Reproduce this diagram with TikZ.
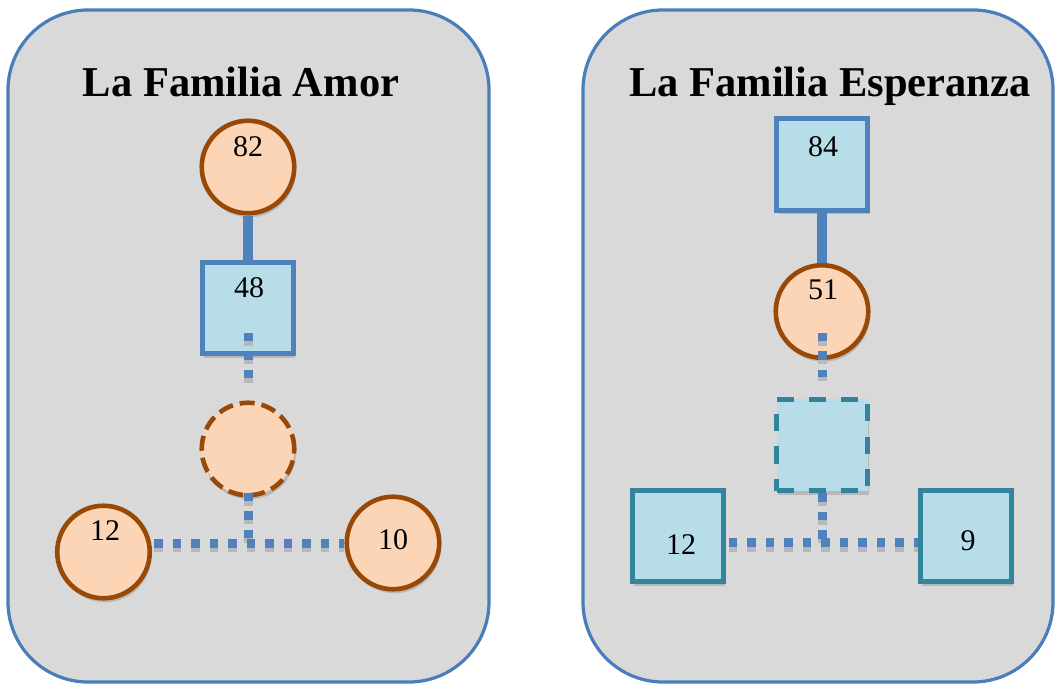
\documentclass[tikz,border=0pt]{standalone}
\usepackage{fontspec}
\setmainfont{Liberation Serif}
\usetikzlibrary{calc,shadows}
\definecolor{panelgray}{HTML}{D9D9D9}
\definecolor{panelblue}{HTML}{4A7EBB}
\definecolor{lineblue}{HTML}{4F81BD}
\definecolor{peach}{HTML}{FBD5B5}
\definecolor{brownc}{HTML}{984807}
\definecolor{lightblue}{HTML}{B7DEE8}
\definecolor{tealc}{HTML}{31849B}
\definecolor{shadowgray}{HTML}{B8B8B8}
\begin{document}
\begin{tikzpicture}[x=1pt,y=-1pt,
 panel/.style={draw=panelblue, fill=panelgray, line width=3.2pt, rounded corners=80pt},
 title/.style={font=\fontsize{42.5}{50}\selectfont\bfseries, anchor=base, inner sep=0pt},
 num/.style={font=\fontsize{30}{36}\selectfont, anchor=base, inner sep=0pt},
 shad/.style={drop shadow={shadow xshift=1.5pt, shadow yshift=-4pt, fill=shadowgray, opacity=1}},
 circ/.style={circle, draw=brownc, fill=peach, line width=4.6pt, minimum size=92.5pt, inner sep=0pt, shad},
 sq/.style={rectangle, draw=lineblue, fill=lightblue, line width=4.6pt, minimum size=91.5pt, inner sep=0pt, shad},
 tsq/.style={sq, draw=tealc, line width=5.5pt, minimum size=91pt},
 solidline/.style={draw=lineblue, line width=9.5pt},
 dotline/.style={draw=lineblue, line width=9pt, dash pattern=on 8.5pt off 10pt,
   preaction={draw=shadowgray, line width=9pt, dash pattern=on 8.5pt off 10pt, transform canvas={yshift=-4.5pt}}},
]
\useasboundingbox (0,0) rectangle (1055,684);
% panels
\draw[panel] (8,10) rectangle (489,682);
\draw[panel] (583,10) rectangle (1053,682);
\node[title] (t1) at (241,97) {La Familia Amor};
\node[title] (t2) at (830,97) {La Familia Esperanza};
% left family nodes
\node[circ] (c82) at (248,167) {};
\node[sq] (s48) at (248,308) {};
\node[circ, dash pattern=on 15pt off 7pt] (dc) at (248,449) {};
\node[circ] (c12) at (103.5,552) {};
\node[circ] (c10) at (393,543) {};
% right family nodes
\node[sq] (s84) at (822,164.5) {};
\node[circ] (c51) at (822,311.5) {};
\node[tsq, dash pattern=on 17pt off 15pt] (ds) at (822,445) {};
\node[tsq] (s12) at (678,536) {};
\node[tsq] (s9) at (966,536) {};
% connectors left
\draw[solidline] (c82.south) -- (s48.north);
\draw[dotline] ($(s48.center)+(0,25)$) -- ($(dc.north)+(0,-20)$);
\draw[dotline] ($(dc.south)+(0,-5)$) -- (dc.south |- c10.west);
\draw[dotline] ($(c12.east |- c10.west)+(2,0)$) -- (c10.west);
% connectors right
\draw[solidline] (s84.south) -- (c51.north);
\draw[dotline] ($(c51.center)+(0,21.5)$) -- ($(ds.north)+(0,-20)$);
\draw[dotline] (ds.south) -- ($(ds.south |- s9.west)+(0,6.5)$);
\draw[dotline] ($(s12.east)+(2.5,6.5)$) -- ($(s9.west)+(0,6.5)$);
% numbers
\node[num] (n82) at (248,157) {82};
\node[num] (n48) at (249,298) {48};
\node[num] (n12a) at (105,540) {12};
\node[num] (n10) at (393,549) {10};
\node[num] (n84) at (823,157) {84};
\node[num] (n51) at (823,300) {51};
\node[num] (n12b) at (681,554) {12};
\node[num] (n9) at (968,550) {9};
\end{tikzpicture}
\end{document}
